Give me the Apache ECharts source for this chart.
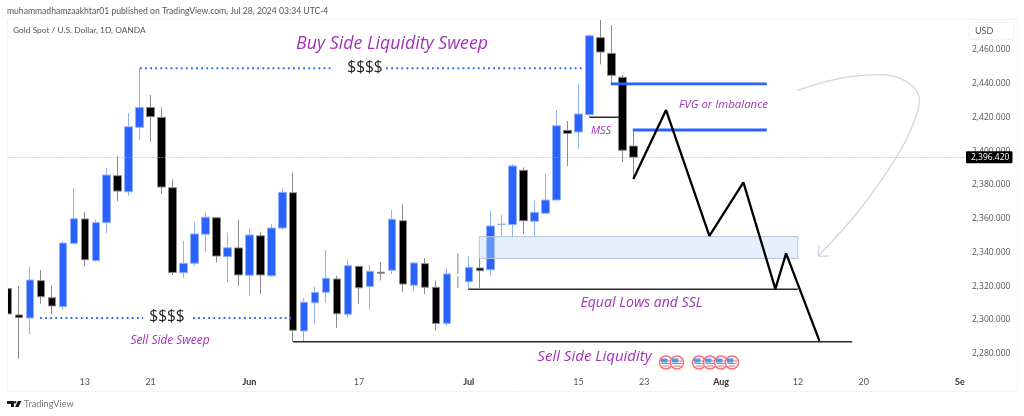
<!DOCTYPE html>
<html><head><meta charset="utf-8">
<style>html,body{margin:0;padding:0;background:#fff}#c{width:1024px;height:416px}</style>
<script src="https://cdn.jsdelivr.net/npm/echarts@6/dist/echarts.min.js"></script>
</head><body><div id="c"></div>
<script>
// [open, close, low, high], one per trading day
const ohlc = [
[2318.6,2303.6,2285.2,2326.1],[2303.0,2301.4,2277.1,2320.2],[2301.2,2323.7,2291.5,2331.6],[2323.3,2313.8,2309.6,2329.6],
[2313.2,2308.3,2303.4,2320.7],[2307.9,2345.6,2306.3,2346.6],[2345.4,2360.0,2345.4,2378.0],[2359.9,2335.7,2331.6,2364.0],
[2335.2,2357.7,2334.5,2359.3],[2357.7,2385.9,2351.4,2390.1],[2385.5,2376.4,2370.5,2397.2],[2376.0,2414.5,2373.5,2422.7],
[2414.2,2426.0,2406.7,2449.2],[2426.0,2420.5,2405.6,2433.3],[2420.1,2378.8,2374.7,2426.0],[2378.4,2328.2,2326.7,2383.4],
[2328.0,2333.6,2325.1,2347.0],[2333.6,2351.0,2332.2,2358.1],[2350.8,2360.9,2340.1,2363.6],[2360.6,2337.9,2334.2,2360.9],
[2337.5,2342.8,2322.5,2351.4],[2342.7,2326.7,2320.3,2359.3],[2326.5,2350.4,2314.4,2354.3],[2349.9,2326.7,2315.4,2352.3],
[2326.2,2354.5,2325.6,2356.9],[2354.5,2375.7,2353.3,2378.0],[2375.4,2293.9,2287.1,2387.4],[2293.5,2310.5,2287.2,2313.0],
[2310.2,2316.4,2297.5,2319.7],[2316.4,2324.7,2310.2,2341.5],[2324.3,2303.7,2295.4,2326.2],[2303.4,2332.2,2301.4,2336.1],
[2331.8,2319.1,2309.6,2332.0],[2319.9,2328.9,2306.3,2332.6],[2328.3,2327.7,2323.3,2334.5],[2329.5,2359.7,2327.3,2365.2],
[2358.8,2321.3,2316.4,2368.6],[2320.6,2333.8,2317.3,2334.2],[2333.4,2319.4,2315.4,2336.6],[2319.4,2298.0,2293.5,2323.5],
[2298.0,2327.3,2296.6,2330.6],['-','-','-','-'],[2322.7,2331.2,2318.2,2337.9],[2330.8,2329.2,2318.8,2337.5],
[2329.8,2355.7,2326.2,2364.8],[2356.6,2356.8,2349.8,2362.2],[2356.5,2391.3,2348.8,2392.4],[2388.7,2358.8,2350.8,2390.5],
[2358.5,2363.8,2349.4,2371.1],[2363.2,2371.1,2363.2,2386.5],[2371.1,2415.1,2371.1,2424.4],[2412.4,2410.6,2391.3,2417.9],
[2411.4,2422.1,2401.3,2439.7],[2421.7,2468.5,2420.5,2469.3],[2467.3,2458.8,2451.5,2478.4],[2458.0,2445.0,2440.4,2474.8],
[2443.8,2400.6,2393.5,2445.2],[2403.1,2396.42,2384.0,2412.6]
];
const barCount = 88;
const tickIndex = [7,13,22,32,42,52,58,65,72,78,87];
const tickLabels = ['13','21','Jun','17','Jul','15','23','Aug','12','20','Sep'];
const boldTicks = ['Jun','Jul','Aug','Sep'];
const lastPrice = 2396.42;
// drawings, as [bar index, price]
const thinWick = [[41,2339.5],[41,2327.2],[null,null],[41,2326.0],[41,2318.8]];
const buyDots1 = [[12.03,2449.2],[29.63,2449.2]];
const buyDots2 = [[34.46,2449.2],[52.6,2449.2]];
const sellDots1 = [[2.92,2301.2],[12.31,2301.2]];
const sellDots2 = [[16.86,2301.2],[25.8,2301.2]];
const equalLows = [[41.96,2318.2],[71.99,2318.2]];
const sellSide = [[25.98,2287.1],[76.94,2287.1]];
const mssLine = [[52.99,2420.1],[55.72,2420.1]];
const fvgTop = [[54.94,2439.9],[69.16,2439.9]];
const fvgBottom = [[56.95,2412.6],[69.16,2412.6]];
const zigzag = [[57,2383.5],[59.98,2424.4],[63.93,2349.8],[67.03,2381.6],[69.94,2318.4],[70.92,2339.5],[73.96,2287.6]];
const curve = [[71.95,2436.1],[75.85,2443.2],[79.49,2445.4],[81.92,2441.2],[83.07,2430.4],[82.53,2416.6],[81.01,2396.8],[77.6,2365.2],[73.84,2337.9]];
const arrowHead = [[73.93,2344.4],[73.84,2337.9],[74.84,2337.9]];
const zone = [[42.96,71.99,2349.4,2336.5]];
const flagXs = [666,677,699,710,721,732];

const UI = 'Lato, sans-serif';
const NUM = '"Open Sans", sans-serif';
const HAND = '"Open Sans", sans-serif';
const PURPLE = '#a431ba';
const chart = echarts.init(document.getElementById('c'));
function ln(data, color, width, extra) {
  return Object.assign({type:'line', xAxisIndex:1, yAxisIndex:0, data, showSymbol:false, symbol:'none', silent:true,
    connectNulls:false, z:4, lineStyle:{color, width, cap:'butt'}}, extra||{});
}
function dots(data){ const s=ln(data,'#2962ff',1.8); s.lineStyle.type=[1.8,3.3]; return s; }
function txt(text,x,y,font,fill,align){
  return {type:'text',z:50,style:{text,x,y,font,fill,textAlign:align||'left',textVerticalAlign:'middle'}};
}
const graphics = [
  {type:'rect',z:40,shape:{x:0,y:17,width:7,height:376},style:{fill:'#fff'}},
  {type:'rect',z:40,shape:{x:965,y:375,width:50,height:14},style:{fill:'#fff'}},
  {type:'rect',z:41,shape:{x:7.5,y:19.5,width:1010,height:372},style:{fill:'none',stroke:'#f0f3fa',lineWidth:1}},
  {type:'rect',z:41,shape:{x:969,y:22.5,width:45,height:17,r:3},style:{fill:'#fff',stroke:'#f0f3fa',lineWidth:1}},
  txt('USD',975,31,'9px '+UI,'#555'),
  txt('muhammadhamzaakhtar01 published on TradingView.com, Jul 28, 2024 03:34 UTC-4',7,11,'8.6px '+UI,'#555'),
  txt('Gold Spot / U.S. Dollar, 1D, OANDA',13,30,'8.4px '+UI,'#555'),
  txt('TradingView',24,404,'9.2px '+UI,'#777'),
  {type:'polygon',z:50,shape:{points:[[7,401],[14,401],[14,407],[11,407],[11,404],[7,404]]},style:{fill:'#131722'}},
  {type:'circle',z:50,shape:{cx:15.2,cy:402.2,r:1.2},style:{fill:'#131722'}},
  {type:'polygon',z:50,shape:{points:[[18,401],[21.5,401],[18.5,407],[15,407]]},style:{fill:'#131722'}},
  txt('Buy Side Liquidity Sweep',392,44,'italic 17.8px '+HAND,PURPLE,'center'),
  txt('$$$$',365,68,'15.5px '+HAND,'#222','center'),
  txt('$$$$',167,317,'15.5px '+HAND,'#222','center'),
  txt('FVG or Imbalance',723.5,105,'italic 11.4px '+HAND,PURPLE,'center'),
  txt('MSS',601,131,'italic 10.8px '+HAND,PURPLE,'center'),
  txt('Equal Lows and SSL',641.5,303,'italic 14.1px '+HAND,PURPLE,'center'),
  txt('Sell Side Liquidity',594.5,357,'italic 15px '+HAND,PURPLE,'center'),
  txt('Sell Side Sweep',170,341,'italic 11.9px '+HAND,PURPLE,'center')
];
flagXs.forEach(function(x){
  const y=362.5;
  graphics.push({type:'circle',z:45,shape:{cx:x,cy:y,r:6.5},style:{fill:'#fff',stroke:'#f4727a',lineWidth:1.5}});
  graphics.push({type:'rect',z:46,shape:{x:x-4.5,y:y+0.5,width:9,height:1},style:{fill:'#f0606a'}});
  graphics.push({type:'rect',z:46,shape:{x:x-3.5,y:y+3,width:7,height:1},style:{fill:'#f0606a'}});
  graphics.push({type:'rect',z:46,shape:{x:x-5,y:y-4,width:6.5,height:4},style:{fill:'#4d9be8'}});
  graphics.push({type:'rect',z:46,shape:{x:x+1.5,y:y-2,width:3.5,height:1},style:{fill:'#f0606a'}});
});

chart.setOption({
  animation:false,
  backgroundColor:'#fff',
  grid:{left:2.5,right:56,top:16.25,bottom:28.5,containLabel:false},
  xAxis:[
    {type:'category',data:Array.from({length:barCount},(_,i)=>'bar'+i),boundaryGap:true,
     axisLine:{show:false},axisTick:{show:false},splitLine:{show:false},
     axisLabel:{show:true,inside:true,margin:1,interval:0,hideOverlap:false,color:'#555',fontSize:9,fontFamily:UI,
       formatter:function(v,i){const k=tickIndex.indexOf(i); if(k<0) return ''; const t=tickLabels[k];
         return boldTicks.indexOf(t)>=0?'{b|'+t+'}':t;},
       rich:{b:{fontWeight:'bold',color:'#333',fontSize:9,fontFamily:UI}}}},
    {type:'value',min:-0.5,max:barCount-0.5,show:false,splitLine:{show:false}}
  ],
  yAxis:{type:'value',min:2260,max:2480,interval:20,position:'right',scale:false,
    axisLine:{show:false},axisTick:{show:false},splitLine:{show:false},
    axisLabel:{showMinLabel:false,showMaxLabel:false,margin:4,color:'#555',fontSize:8.5,fontFamily:NUM,
      formatter:v=>v.toLocaleString('en-US',{minimumFractionDigits:3,maximumFractionDigits:3})}},
  graphic:{elements:graphics},
  series:[
    {type:'candlestick',xAxisIndex:0,yAxisIndex:0,data:ohlc,barWidth:8,z:2,silent:true,
     itemStyle:{color:'#2962ff',color0:'#000',borderColor:'#93b1fb',borderColor0:'#8a8a8a',borderWidth:1},
     markLine:{silent:true,symbol:'none',animation:false,
       lineStyle:{color:'#aaa',type:[1,2],width:1},
       data:[{yAxis:lastPrice}],
       label:{show:true,position:'end',distance:-2,formatter:()=>lastPrice.toLocaleString('en-US',{minimumFractionDigits:3}),
         backgroundColor:'#000',color:'#fff',fontSize:8.5,fontFamily:NUM,padding:[1.5,3,1.5,5],borderRadius:1}}},
    ln(thinWick,'#9a9a9a',1.2,{z:2}),
    {type:'custom',xAxisIndex:1,yAxisIndex:0,z:3,silent:true,data:zone,encode:{x:[0,1],y:[2,3]},
     renderItem:function(p,api){
       const a=api.coord([api.value(0),api.value(2)]), b=api.coord([api.value(1),api.value(3)]);
       return {type:'rect',shape:{x:a[0],y:a[1],width:b[0]-a[0],height:b[1]-a[1]},
         style:{fill:'rgba(190,218,248,0.4)',stroke:'#b6c3da',lineWidth:1}};
     }},
    dots(buyDots1),dots(buyDots2),dots(sellDots1),dots(sellDots2),
    ln(equalLows,'#2a2a2a',1.5),ln(sellSide,'#2a2a2a',1.5),ln(mssLine,'#2a2a2a',1.5),
    ln(fvgTop,'#2962ff',2.8),ln(fvgBottom,'#2962ff',2.8),
    ln(zigzag,'#000',2.3,{z:5}),
    ln(curve,'#d3d5e0',1.3,{smooth:0.4}),
    ln(arrowHead,'#d3d5e0',1.3)
  ]
});
</script></body></html>
